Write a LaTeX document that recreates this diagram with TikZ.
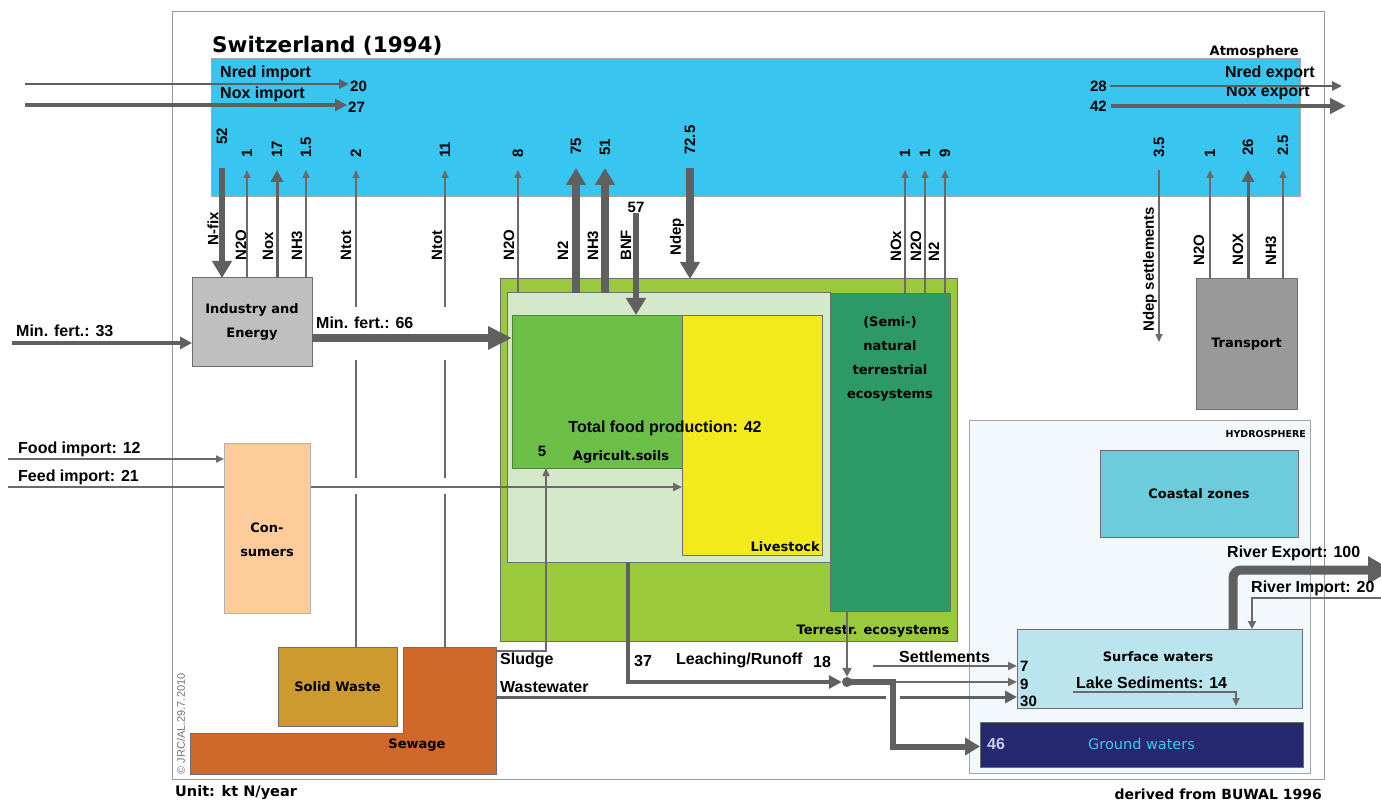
\documentclass[tikz,border=0pt]{standalone}
\usepackage{fontspec}
\setmainfont{Liberation Sans}
\newfontfamily\comic{DejaVu Sans}
\usetikzlibrary{arrows.meta}
\definecolor{atmblue}{RGB}{56,197,240}
\definecolor{flowgray}{RGB}{96,96,96}
\definecolor{thingray}{RGB}{112,104,104}
\definecolor{edgegray}{RGB}{110,110,110}
\definecolor{indgray}{RGB}{191,191,191}
\definecolor{peach}{RGB}{253,204,154}
\definecolor{gold}{RGB}{204,154,46}
\definecolor{sewcol}{RGB}{207,104,40}
\definecolor{grass}{RGB}{154,202,60}
\definecolor{palegreen}{RGB}{212,232,202}
\definecolor{soilgreen}{RGB}{108,191,70}
\definecolor{liveyellow}{RGB}{242,234,26}
\definecolor{forest}{RGB}{45,153,102}
\definecolor{hydrobg}{RGB}{242,248,252}
\definecolor{coast}{RGB}{108,204,220}
\definecolor{surface}{RGB}{186,228,238}
\definecolor{navy}{RGB}{38,40,112}
\definecolor{groundtext}{RGB}{64,200,240}
\definecolor{transgray}{RGB}{153,153,153}
\definecolor{lavender}{RGB}{205,205,240}
\begin{document}
\begin{tikzpicture}[x=1pt,y=-1pt,
  box/.style={draw=edgegray, line width=1pt, inner sep=0pt, outer sep=0pt, anchor=north west},
  cfont/.style={font=\comic\bfseries\fontsize{13}{24}\selectfont, align=center},
  lab/.style={font=\bfseries\fontsize{16}{18}\selectfont, inner sep=1pt},
  num/.style={font=\bfseries\fontsize{15}{17}\selectfont, inner sep=1pt},
  vnum/.style={num, rotate=90, anchor=west},
  vlab/.style={font=\bfseries\fontsize{15}{17}\selectfont, inner sep=1pt, rotate=90, anchor=west},
  clab/.style={cfont, inner sep=1pt},
  thinflow/.style={draw=thingray, line width=1.6pt, -{Triangle[length=8pt,width=7pt]}},
  midflow/.style={draw=flowgray, line width=2.5pt, -{Triangle[length=10pt,width=9pt]}},
  medflow/.style={draw=flowgray, line width=3.5pt, -{Triangle[length=12pt,width=12pt]}},
  thickflow/.style={draw=flowgray, line width=7.5pt, -{Triangle[length=17pt,width=19pt]}},
  gap/.style={fill=white, draw=none}
]
\useasboundingbox (0,0) rectangle (1381,802);
\fill[white] (0,0) rectangle (1381,802);

% frame and title
\node[box, draw=black!40, minimum width=1152pt, minimum height=767pt] (frame) at (172,12) {};
\node[anchor=west, inner sep=1pt, font=\comic\bfseries\fontsize{21.5}{24}\selectfont] (title) at (211,46) {Switzerland (1994)};
\node[anchor=east, clab] (atmlab) at (1300,52) {Atmosphere};

% atmosphere
\node[box, fill=atmblue, draw=black!35, minimum width=1089pt, minimum height=138pt] (atm) at (211,59) {};

% compartments
\node[box, fill=grass, minimum width=457pt, minimum height=362pt] (green) at (500,279) {};
\node[box, fill=palegreen, minimum width=323pt, minimum height=269pt] (inner) at (507,293) {};
\node[box, fill=soilgreen, draw=soilgreen!70!black, minimum width=170pt, minimum height=153pt] (agri) at (512,315) {};
\node[box, fill=liveyellow, minimum width=140pt, minimum height=240pt] (live) at (682,315) {};
\node[box, fill=forest, minimum width=120pt, minimum height=317pt] (semi) at (830,294) {};
\node[box, fill=hydrobg, draw=black!35, minimum width=341pt, minimum height=353pt] (hydro) at (969,420) {};
\node[box, fill=coast, cfont, minimum width=198pt, minimum height=87pt] (coast) at (1100,450) {Coastal zones};
\node[box, fill=surface, minimum width=285pt, minimum height=79pt] (surf) at (1017,629) {};
\node[box, fill=navy, cfont, text=groundtext, font=\comic\fontsize{14.5}{16}\selectfont, minimum width=323pt, minimum height=45pt] (ground) at (980,722) {Ground waters};
\node[box, fill=transgray, cfont, minimum width=101pt, minimum height=130pt] (trans) at (1196,279) {Transport};
\node[box, fill=indgray, cfont, minimum width=120pt, minimum height=88pt] (ind) at (192,278) {Industry and\\Energy};
\node[box, fill=gold, cfont, minimum width=119pt, minimum height=79pt] (solid) at (278,647) {Solid Waste};
\filldraw[fill=sewcol, draw=edgegray, line width=1pt] (403,647) -- (496,647) -- (496,774) -- (190,774) -- (190,733) -- (403,733) -- cycle;
\coordinate (sewtop) at (445,647);
\coordinate (sewsl) at (496,651);
\coordinate (sewww) at (496,697);
\node[clab] (sewlab) at (417,745) {Sewage};

% imports / exports of the atmosphere
\node[lab, anchor=west] (nredl) at (219,73) {Nred import};
\node[lab, anchor=west] (noxl) at (219,94) {Nox import};
\node[num, anchor=west] (n20) at (349,86) {20};
\node[num, anchor=west] (n27) at (347,107) {27};
\coordinate (nredin) at (25,84);
\coordinate (noxin) at (25,105);
\draw[midflow] (nredin) -- (nredin -| n20.west);
\draw[medflow] (noxin) -- (noxin -| n27.west);
\node[lab, anchor=east] (nrede) at (1316,73) {Nred export};
\node[lab, anchor=east] (noxe) at (1311,93) {Nox export};
\node[num, anchor=east] (n28) at (1108,86) {28};
\node[num, anchor=east] (n42) at (1108,106) {42};
\coordinate (nredout) at (1342,85);
\coordinate (noxout) at (1346,105);
\draw[midflow] ([xshift=2pt]n28.east) -- (n28.east -| nredout);
\draw[draw=flowgray, line width=4.5pt, -{Triangle[length=16pt,width=15pt]}] ([xshift=3pt]n42.east) -- (n42.east -| noxout);

% industry fluxes
\node[vnum] (a52) at (222,146) {52};
\draw[thickflow, line width=6pt] ([yshift=-22pt]a52.west) -- (ind.north -| a52.west);
\node[vnum] (a1) at (247,159) {1};
\draw[thinflow] (ind.north -| a1.west) -- ([yshift=-11pt]a1.west);
\node[vnum] (a17) at (277,159) {17};
\draw[medflow, line width=3pt] (ind.north -| a17.west) -- ([yshift=-11pt]a17.west);
\node[vnum] (a15) at (306,159) {1.5};
\draw[thinflow] (ind.north -| a15.west) -- ([yshift=-11pt]a15.west);
\node[vlab] at (213,247) {N-fix};
\node[vlab] at (241,262) {N2O};
\node[vlab] at (268,262) {Nox};
\node[vlab] at (297,262) {NH3};

% Ntot fluxes
\node[vnum] (a2) at (356,159) {2};
\draw[thinflow] (solid.north -| a2.west) -- ([yshift=-11pt]a2.west);
\node[vnum] (a11) at (445,159) {11};
\draw[thinflow] (sewtop) -- ([yshift=-11pt]a11.west);
\node[vlab] at (346,262) {Ntot};
\node[vlab] at (437,262) {Ntot};

% agriculture fluxes
\node[vnum] (a8) at (518,159) {8};
\draw[thinflow] (inner.north -| a8.west) -- ([yshift=-11pt]a8.west);
\node[vnum] (a75) at (576,156) {75};
\draw[thickflow] (inner.north -| a75.west) -- ([yshift=-12pt]a75.west);
\node[vnum] (a51) at (605,157) {51};
\draw[thickflow] (inner.north -| a51.west) -- ([yshift=-11pt]a51.west);
\node[num] (n57) at (636,207) {57};
\draw[thickflow, line width=6.5pt] (n57.south) -- (agri.north -| n57.south);
\node[vnum] (a725) at (690,156) {72.5};
\draw[thickflow] ([yshift=-12pt]a725.west) -- (green.north -| a725.west);
\node[vlab] at (509,262) {N2O};
\node[vlab] at (563,262) {N2};
\node[vlab] at (593,262) {NH3};
\node[vlab] at (626,262) {BNF};
\node[vlab] at (677,257) {Ndep};

% semi-natural fluxes
\node[vnum] (b1) at (905,159) {1};
\node[vnum] (b2) at (925,159) {1};
\node[vnum] (b9) at (945,159) {9};
\draw[thinflow] (semi.north -| b1.west) -- ([yshift=-11pt]b1.west);
\draw[thinflow] (semi.north -| b2.west) -- ([yshift=-11pt]b2.west);
\draw[thinflow] (semi.north -| b9.west) -- ([yshift=-11pt]b9.west);
\node[vlab] at (896,263) {NOx};
\node[vlab] at (916,263) {N2O};
\node[vlab] at (934,263) {N2};

% deposition on settlements
\node[vnum] (a35) at (1159,159) {3.5};
\coordinate (ndsend) at (1159,342);
\draw[thinflow] ([yshift=-11pt]a35.west) -- (ndsend);
\node[vlab] at (1150,333) {Ndep settlements};

% transport fluxes
\node[vnum] (t1) at (1210,159) {1};
\node[vnum] (t26) at (1248,157) {26};
\node[vnum] (t25) at (1283,157) {2.5};
\draw[thinflow] (trans.north -| t1.west) -- ([yshift=-11pt]t1.west);
\draw[medflow, line width=3pt] (trans.north -| t26.west) -- ([yshift=-13pt]t26.west);
\draw[thinflow] (trans.north -| t25.west) -- ([yshift=-13pt]t25.west);
\node[vlab] at (1199,267) {N2O};
\node[vlab] at (1238,267) {NOX};
\node[vlab] at (1271,267) {NH3};

% gaps in the Ntot lines
\fill[gap] (351,307) rectangle (361,360);
\fill[gap] (440,307) rectangle (450,360);
\fill[gap] (351,478) rectangle (361,494);
\fill[gap] (440,478) rectangle (450,494);

% fertiliser, food and feed
\coordinate (mf33) at (12,343);
\draw[draw=flowgray, line width=3.5pt, -{Triangle[length=12pt,width=12pt]}] (mf33) -- (mf33 -| ind.west);
\node[lab, anchor=west] at (15,331) {Min. fert.: 33};
\draw[draw=flowgray, line width=8pt, -{Triangle[length=24pt,width=22pt]}] ([yshift=-16pt]ind.east) -- ([yshift=-16pt]ind.east -| agri.west);
\node[lab, anchor=west] at (315,323) {Min. fert.: 66};
\coordinate (feedsrc) at (8,487);
\draw[draw=thingray, line width=2.5pt, -{Triangle[length=9pt,width=8pt]}] (feedsrc) -- (feedsrc -| live.west);
\node[lab, anchor=west] at (17,477) {Feed import: 21};
\node[box, fill=peach, draw=black!30, minimum width=86pt, minimum height=170pt] (cons) at (224,443) {};
\node[clab] at (267,540) {Con-\\sumers};
\coordinate (foodsrc) at (8,459);
\draw[draw=thingray, line width=2pt, -{Triangle[length=8pt,width=7pt]}] (foodsrc) -- (foodsrc -| cons.west);
\node[lab, anchor=west] at (17,449) {Food import: 12};

% agriculture texts
\node[lab] at (665,428) {Total food production: 42};
\node[clab] at (621,457) {Agricult.soils};
\node[num] at (542,451) {5};
\node[clab, anchor=east] at (821,547) {Livestock};
\node[clab] at (890,359) {(Semi-)\\natural\\terrestrial\\ecosystems};
\node[clab] at (873,631) {Terrestr. ecosystems};

% sludge and wastewater
\draw[thinflow] (sewsl) -| ([xshift=34pt]agri.south west);
\node[lab, anchor=west] at (499,660) {Sludge};
\node[lab, anchor=west] at (499,687) {Wastewater};
\draw[draw=flowgray, line width=3pt, -{Triangle[length=12pt,width=12pt]}] (sewww) -- (sewww -| surf.west);

% leaching and runoff
\node[circle, fill=flowgray, minimum size=10pt, inner sep=0pt] (dot) at (847,682) {};
\draw[draw=flowgray, line width=4.5pt, -{Triangle[length=13pt,width=13pt]}] ([xshift=121pt]inner.south west) |- (dot.west);
\draw[draw=thingray, line width=2.2pt, -{Triangle[length=9pt,width=9pt]}] (dot |- semi.south) -- (dot.north);
\node[lab, anchor=west] at (633,661) {37};
\node[lab, anchor=west] at (675,660) {Leaching/Runoff};
\node[lab, anchor=west] at (812,662) {18};
\draw[draw=thingray, line width=2pt, -{Triangle[length=9pt,width=8pt]}] (dot.east) -- (dot.east -| surf.west);
\fill[gap] (886,691) rectangle (900,703);
\coordinate (bend) at (893,682);
\draw[draw=flowgray, line width=6pt, -{Triangle[length=15pt,width=17pt]}] (dot.center) -- (bend) |- ([yshift=-2pt]ground.west);
\coordinate (settl) at (873,666);
\draw[draw=thingray, line width=2pt, -{Triangle[length=9pt,width=8pt]}] (settl) -- (settl -| surf.west);
\node[lab, anchor=west] at (898,657) {Settlements};

% hydrosphere texts
\node[anchor=east, inner sep=1pt, font=\comic\bfseries\fontsize{9.5}{11}\selectfont] at (1307,434) {HYDROSPHERE};
\node[clab] at (1158,657) {Surface waters};
\node[num, anchor=west] at (1019,666) {7};
\node[num, anchor=west] at (1019,684) {9};
\node[num, anchor=west] at (1019,701) {30};
\node[lab, anchor=west] at (1075,683) {Lake Sediments: 14};
\coordinate (lakes) at (1073,692);
\draw[draw=thingray, line width=1.6pt, -{Triangle[length=8pt,width=7pt]}] (lakes) -| ([xshift=-66pt, yshift=2pt]surf.south east);
\node[lab, anchor=west, text=lavender, font=\bfseries\fontsize{16}{18}\selectfont] at (986,744) {46};

% rivers
\coordinate (rexp) at (1392,570);
\draw[draw=flowgray, line width=9pt, rounded corners=8pt, -{Triangle[length=24pt,width=26pt]}] ([xshift=216pt]surf.north west) |- (rexp);
\node[lab, anchor=west] at (1226,553) {River Export: 100};
\coordinate (rimp) at (1383,598);
\draw[draw=thingray, line width=2pt, -{Triangle[length=8pt,width=8pt]}] (rimp) -| ([xshift=235pt]surf.north west);
\node[lab, anchor=west] at (1250,588) {River Import: 20};

% footer
\node[anchor=west, inner sep=1pt, font=\comic\bfseries\fontsize{14.5}{17}\selectfont] at (174,793) {Unit: kt N/year};
\node[anchor=east, inner sep=1pt, font=\comic\bfseries\fontsize{14}{17}\selectfont] at (1323,794) {derived from BUWAL 1996};
\node[rotate=90, inner sep=1pt, text=black!55, font=\fontsize{11}{13}\selectfont] at (181,724) {\textcopyright\ JRC/AL.29.7.2010};
\end{tikzpicture}
\end{document}
